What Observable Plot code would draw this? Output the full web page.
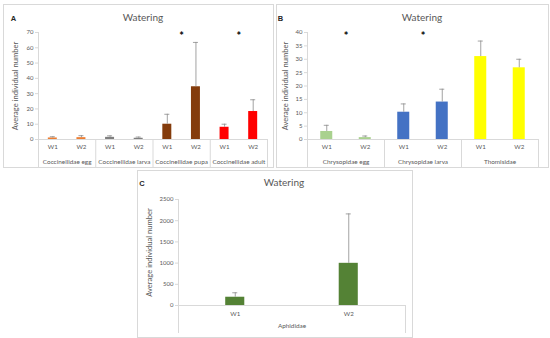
<!DOCTYPE html>
<html><head><meta charset="utf-8">
<script src="https://cdn.jsdelivr.net/npm/d3@7"></script>
<script src="https://cdn.jsdelivr.net/npm/@observablehq/plot@0.6"></script>
<style>
body{margin:0;background:#fff;font-family:Lato,sans-serif;}
#wrap{position:relative;width:550px;height:338px;overflow:hidden;background:#fff;}
.box{position:absolute;border:1px solid #d9d9d9;box-sizing:border-box;}
.lbl{position:absolute;font-family:"Liberation Sans",sans-serif;font-weight:bold;font-size:7.5px;color:#262626;transform:translate(-50%,-50%);}
.ttl{position:absolute;font-family:Lato,sans-serif;font-size:10px;color:#595959;transform:translate(-50%,-50%);white-space:nowrap;}
.plot{position:absolute;}
</style></head><body><div id="wrap"></div>
<script>
// ---------- data ----------
const watering = ["W1", "W2"];
const yTitle = "Average individual number";
const chartTitle = "Watering";

const groupsA = ["Coccinellidae egg", "Coccinellidae larva", "Coccinellidae pupa", "Coccinellidae adult"];
const meanA = [[1.0, 1.2], [1.4, 0.8], [10.0, 34.5], [8.0, 18.3]];
const errA = [[0.8, 1.3], [1.0, 0.8], [6.5, 29.0], [2.0, 7.7]];
const colorsA = ["#ED7D31", "#7F7F7F", "#843C0C", "#FF0000"];
const starsA = ["Coccinellidae pupa", "Coccinellidae adult"];
const ticksA = [0, 10, 20, 30, 40, 50, 60, 70];

const groupsB = ["Chrysopidae egg", "Chrysopidae larva", "Thomisidae"];
const meanB = [[3.0, 0.7], [10.2, 14.0], [31.0, 26.8]];
const errB = [[2.3, 0.6], [3.1, 4.8], [5.8, 3.2]];
const colorsB = ["#A9D18E", "#4472C4", "#FFFF00"];
const starsB = ["Chrysopidae egg", "Chrysopidae larva"];
const ticksB = [0, 5, 10, 15, 20, 25, 30, 35, 40];

const groupsC = ["Aphididae"];
const meanC = [[195, 995]];
const errC = [[105, 1165]];
const colorsC = ["#548235"];
const starsC = [];
const ticksC = [0, 500, 1000, 1500, 2000, 2500];

// ---------- layout ----------
const wrap = document.getElementById("wrap");

function panel(cfg) {
  const {letter, groups, mean, err, colors, stars, ticks, box, plot, barFrac, titlePos, letterPos, labelOffset, wPad, gPad, divLen} = cfg;
  const b = document.createElement("div");
  b.className = "box";
  Object.assign(b.style, {left: box.x + "px", top: box.y + "px", width: box.w + "px", height: box.h + "px"});
  wrap.appendChild(b);

  const rows = groups.flatMap((g, gi) => watering.map((w, wi) => ({
    g, w, x: gi + (wi + 0.5) / watering.length, v: mean[gi][wi], e: err[gi][wi], c: colors[gi]
  })));
  const wLabel = new Map(rows.map(d => [d.x, d.w]));
  const gLabel = new Map(groups.map((g, i) => [i + 0.5, g]));
  const marginLeft = plot.x0 - box.x, marginRight = box.x + box.w - plot.x1;
  const marginTop = plot.y1 - box.y, marginBottom = box.y + box.h - plot.y0;
  const groupPx = (plot.x1 - plot.x0) / groups.length;
  const half = barFrac / 2;
  const cap = 2.5 / groupPx;

  const svg = Plot.plot({
    width: box.w, height: box.h,
    marginLeft, marginRight, marginTop, marginBottom,
    x: {domain: [0, groups.length], axis: null},
    y: {domain: [0, ticks[ticks.length - 1]], axis: null},
    color: {type: "identity"},
    style: {fontFamily: "Lato, sans-serif", fontSize: "6px", color: "#595959", background: "transparent", overflow: "visible"},
    marks: [
      Plot.ruleX([0], {stroke: "#d9d9d9"}),
      Plot.axisY(ticks, {tickSize: 3, tickPadding: 2, stroke: "#d9d9d9", label: null, tickFormat: d => String(d)}),
      Plot.text([yTitle], {frameAnchor: "left", textAnchor: "middle", lineAnchor: "middle", rotate: -90, dx: -labelOffset, fontSize: 7.6, fill: "#595959"}),
      Plot.axisX(d3.range(groups.length + 1), {tickSize: divLen, tickFormat: () => "", stroke: "#d9d9d9", label: null}),
      Plot.axisX(rows.map(d => d.x), {tickSize: 0, tickPadding: wPad, tickFormat: d => wLabel.get(d), fontSize: 6.2, label: null}),
      Plot.axisX(groups.map((g, i) => i + 0.5), {tickSize: 0, tickPadding: gPad, tickFormat: d => gLabel.get(d), fontSize: 6.4, label: null}),
      Plot.ruleY([0], {stroke: "#d9d9d9"}),
      Plot.rectY(rows, {x1: d => d.x - half, x2: d => d.x + half, y: "v", fill: "c"}),
      Plot.ruleX(rows, {x: "x", y1: "v", y2: d => d.v + d.e, stroke: "#8c8c8c", strokeWidth: 0.8}),
      Plot.ruleY(rows, {y: d => d.v + d.e, x1: d => d.x - cap, x2: d => d.x + cap, stroke: "#8c8c8c", strokeWidth: 0.8}),
      Plot.text(stars, {x: g => groups.indexOf(g) + 0.5, frameAnchor: "top", text: () => "*", fontSize: 11, fontWeight: "bold", fill: "#000", dy: 0})
    ]
  });
  svg.classList.add("plot");
  Object.assign(svg.style, {left: box.x + "px", top: box.y + "px"});
  wrap.appendChild(svg);

  const t = document.createElement("div");
  t.className = "ttl"; t.textContent = chartTitle;
  Object.assign(t.style, {left: titlePos[0] + "px", top: titlePos[1] + "px"});
  wrap.appendChild(t);
  const l = document.createElement("div");
  l.className = "lbl"; l.textContent = letter;
  Object.assign(l.style, {left: letterPos[0] + "px", top: letterPos[1] + "px"});
  wrap.appendChild(l);
}

panel({letter: "A", groups: groupsA, mean: meanA, err: errA, colors: colorsA, stars: starsA, ticks: ticksA,
  box: {x: 3, y: 4, w: 271, h: 164}, plot: {x0: 38, x1: 267, y0: 139, y1: 32}, barFrac: 0.157,
  titlePos: [143, 17], letterPos: [13.5, 17.5], labelOffset: 23, wPad: 5, gPad: 20, divLen: 29});
panel({letter: "B", groups: groupsB, mean: meanB, err: errB, colors: colorsB, stars: starsB, ticks: ticksB,
  box: {x: 276, y: 4, w: 273, h: 164}, plot: {x0: 307, x1: 538, y0: 139, y1: 32}, barFrac: 0.156,
  titlePos: [422, 17], letterPos: [280.5, 17.5], labelOffset: 22, wPad: 5, gPad: 20, divLen: 29});
panel({letter: "C", groups: groupsC, mean: meanC, err: errC, colors: colorsC, stars: starsC, ticks: ticksC,
  box: {x: 137, y: 170, w: 276, h: 168}, plot: {x0: 178, x1: 405, y0: 305, y1: 199}, barFrac: 0.084,
  titlePos: [284, 182], letterPos: [142, 182.5], labelOffset: 29, wPad: 6, gPad: 18, divLen: 28});
</script></body></html>
